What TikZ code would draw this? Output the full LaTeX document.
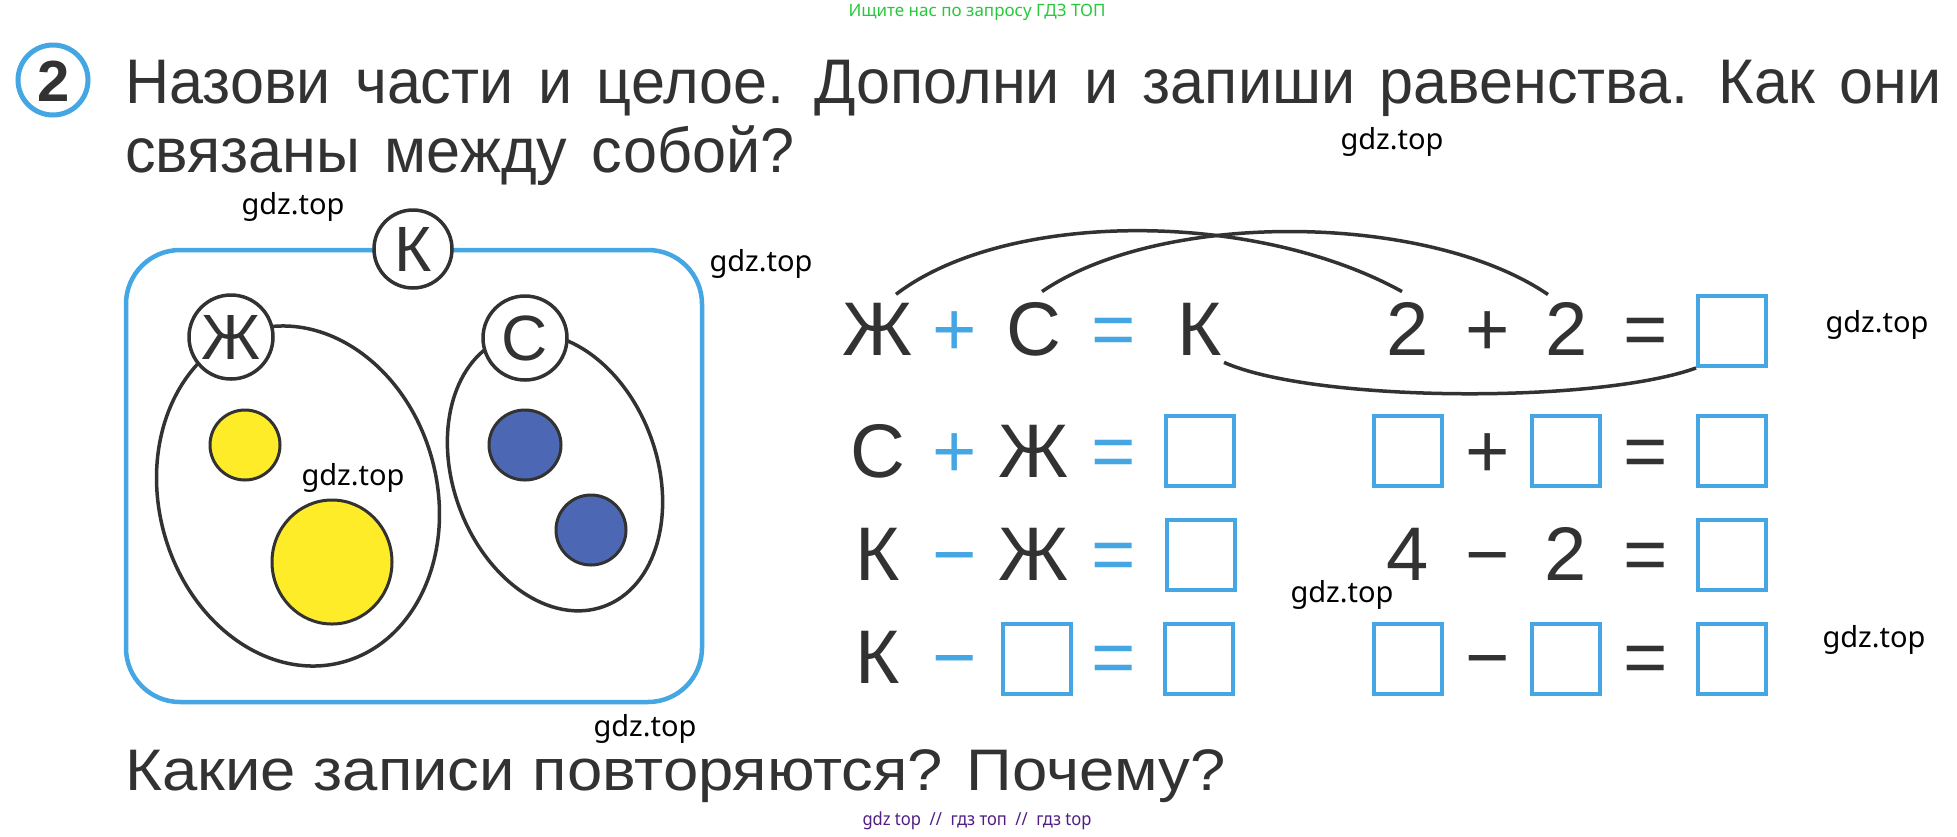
\documentclass[tikz,border=0pt]{standalone}
\usepackage{fontspec}
\setmainfont{Liberation Sans}
\newfontfamily\wmfont{Noto Sans}
\usetikzlibrary{calc}
\definecolor{lblue}{RGB}{68,166,226}
\definecolor{ink}{RGB}{50,50,50}
\definecolor{yel}{RGB}{255,236,40}
\definecolor{dblue}{RGB}{76,104,180}
\definecolor{wgreen}{RGB}{40,200,60}
\definecolor{wpurple}{RGB}{80,30,130}
\begin{document}
\begin{tikzpicture}[x=0.5pt,y=-0.5pt,
  glyph/.style={anchor=base,inner sep=0pt,text=ink,font=\fontsize{38}{38}\selectfont},
  bglyph/.style={glyph,text=lblue},
  ansbox/.style={draw=lblue,line width=2pt,minimum width=34pt,minimum height=35pt,inner sep=0pt},
  lettercircle/.style={circle,draw=ink,fill=white,line width=1.75pt,inner sep=0pt,text=ink,font=\fontsize{32}{32}\selectfont},
  grp/.style={draw=ink,line width=1.75pt},
  dot/.style={draw=ink,line width=1.5pt},
  arcline/.style={draw=ink,line width=1.75pt},
  wm/.style={inner sep=0pt,font=\wmfont\fontsize{14.5}{14.5}\selectfont,text=black},
  title/.style={anchor=base west,inner sep=0pt,text=ink}
]
\useasboundingbox (0,0) rectangle (1957,836);
\fill[white] (0,0) rectangle (1957,836);

% header
\node[inner sep=0pt,text=wgreen] (hdr) at (977,12) {\resizebox{128.5pt}{\height}{\wmfont\fontsize{8.5}{8.5}\selectfont Ищите нас по запросу ГДЗ ТОП}};
\node[circle,draw=lblue,line width=2.5pt,minimum size=35pt,inner sep=0pt] (num) at (53,80) {};
\node[inner sep=0pt,text=ink,font=\fontsize{29}{29}\selectfont\bfseries,anchor=base] (numtxt) at (54,101) {2};

\node[title] (t1) at (125,103) {\resizebox{908pt}{\height}{\fontsize{31.5}{34.5}\selectfont\spaceskip=0.4em\begin{tabular}[t]{@{}l@{}}Назови части и целое. Дополни и запиши равенства. Как они\\связаны между собой?\end{tabular}}};

% left diagram
\draw[lblue,line width=2.25pt,rounded corners=27pt] (126,250) rectangle (702,702);
\draw[grp,rotate around={15:(298,496)}] (298,496) ellipse [x radius=139,y radius=172];
\draw[grp,rotate around={20:(555,472)}] (555,472) ellipse [x radius=102,y radius=143];
\draw[dot,fill=yel] (245,445) circle [radius=35];
\draw[dot,fill=yel] (332,562) ellipse [x radius=60,y radius=62];
\draw[dot,fill=dblue] (525,445) ellipse [x radius=36,y radius=35];
\draw[dot,fill=dblue] (591,530) circle [radius=35];
\node[lettercircle,minimum size=42pt] (cZh) at (231,337) {Ж};
\node[lettercircle,minimum size=42pt] (cS) at (525,338) {С};
\node[lettercircle,minimum size=39pt] (cK) at (413,249) {К};

% equations row 1
\node[glyph] (r1a) at (878,355) {Ж};
\node[bglyph] (r1b) at (955,355) {+};
\node[glyph] (r1c) at (1034,355) {С};
\node[bglyph] (r1d) at (1114,355) {=};
\node[glyph] (r1e) at (1200,355) {К};
\node[glyph] (r1f) at (1408,355) {2};
\node[glyph] (r1g) at (1488,355) {+};
\node[glyph] (r1h) at (1567,355) {2};
\node[glyph] (r1i) at (1646,355) {=};
\node[ansbox] (r1j) at (1732,331) {};
% row 2
\node[glyph] (r2a) at (878,477) {С};
\node[bglyph] (r2b) at (955,477) {+};
\node[glyph] (r2c) at (1034,477) {Ж};
\node[bglyph] (r2d) at (1114,477) {=};
\node[ansbox] (r2e) at (1200,451) {};
\node[ansbox] (r2f) at (1408,451) {};
\node[glyph] (r2g) at (1488,477) {+};
\node[ansbox] (r2h) at (1566,451) {};
\node[glyph] (r2i) at (1646,477) {=};
\node[ansbox] (r2j) at (1732,451) {};
% row 3
\node[glyph] (r3a) at (878,580) {К};
\node[bglyph] (r3b) at (955,580) {−};
\node[glyph] (r3c) at (1034,580) {Ж};
\node[bglyph] (r3d) at (1114,580) {=};
\node[ansbox] (r3e) at (1201,555) {};
\node[glyph] (r3f) at (1408,580) {4};
\node[glyph] (r3g) at (1488,580) {−};
\node[glyph] (r3h) at (1566,580) {2};
\node[glyph] (r3i) at (1646,580) {=};
\node[ansbox] (r3j) at (1732,555) {};
% row 4
\node[glyph] (r4a) at (878,683) {К};
\node[bglyph] (r4b) at (955,683) {−};
\node[ansbox] (r4c) at (1037,659) {};
\node[bglyph] (r4d) at (1114,683) {=};
\node[ansbox] (r4e) at (1199,659) {};
\node[ansbox] (r4f) at (1408,659) {};
\node[glyph] (r4g) at (1488,683) {−};
\node[ansbox] (r4h) at (1566,659) {};
\node[glyph] (r4i) at (1646,683) {=};
\node[ansbox] (r4j) at (1732,659) {};

% arcs
\draw[arcline] ([xshift=9pt,yshift=4pt]r1a.north) .. controls +(110,-84) and +(-149,-82) .. ([xshift=-3pt,yshift=5pt]r1f.north);
\draw[arcline] ([xshift=4pt,yshift=5pt]r1c.north) .. controls +(120,-82) and +(-120,-82) .. ([xshift=-9.5pt,yshift=3.5pt]r1h.north);
\draw[arcline] ([xshift=12pt,yshift=-3.5pt]r1e.south) .. controls +(90,40) and +(-100,36) .. (r1j.south west);

% bottom text
\node[title] (t3) at (125,790) {\resizebox{550pt}{\height}{\fontsize{29.3}{29.3}\selectfont Какие записи повторяются? Почему?}};

% watermarks
\node[wm] (w1) at (1392,142) {gdz.top};
\node[wm] (w2) at (293,207) {gdz.top};
\node[wm] (w3) at (761,264) {gdz.top};
\node[wm] (w4) at (1877,325) {gdz.top};
\node[wm] (w5) at (353,478) {gdz.top};
\node[wm] (w6) at (1342,595) {gdz.top};
\node[wm] (w7) at (1874,640) {gdz.top};
\node[wm] (w8) at (645,729) {gdz.top};
\node[inner sep=0pt,text=wpurple] (ftr) at (977,821) {\resizebox{114.5pt}{\height}{\wmfont\fontsize{9}{9}\selectfont gdz top~~//~~гдз топ~~//~~гдз top}};
\end{tikzpicture}
\end{document}
